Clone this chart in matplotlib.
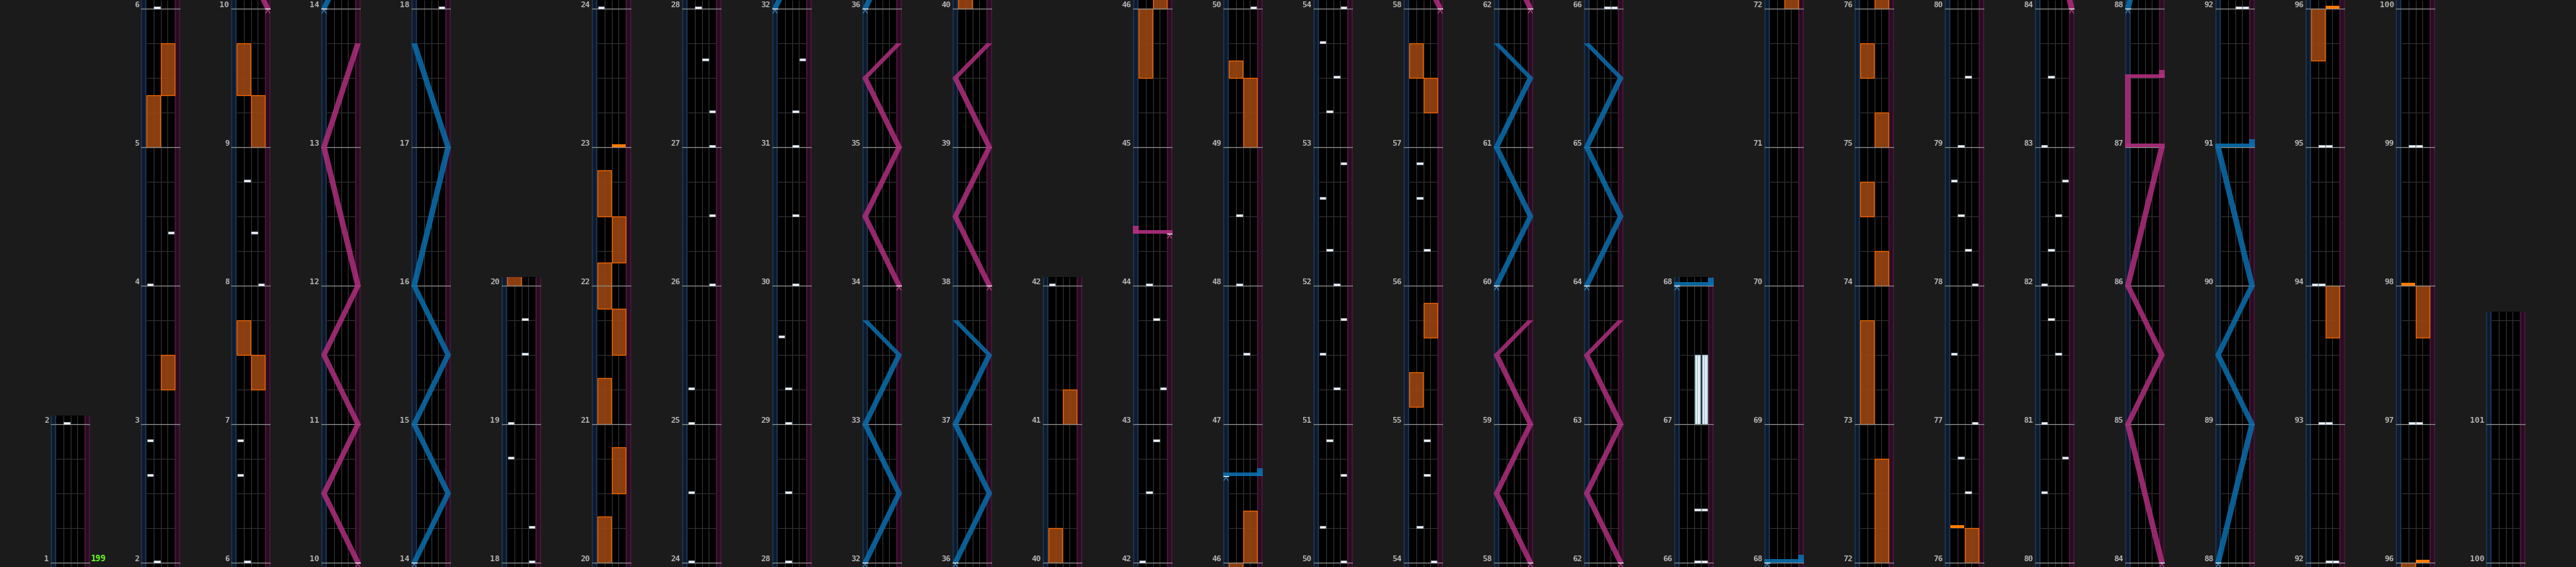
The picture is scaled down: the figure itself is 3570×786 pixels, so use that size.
import numpy as np
import matplotlib.pyplot as plt
from matplotlib.patches import Rectangle, Polygon

# ---- chart data (times in measures, lanes 0-3 = BT A-D, side 0/1 = FX L/R) ----
col_starts = [1, 2, 6, 10, 14, 18, 20, 24, 28, 32, 36, 40, 42, 46, 50, 54,
              58, 62, 66, 68, 72, 76, 80, 84, 88, 92, 96, 100]
chart_end = 101.75
bpm_label = '199'

bt_chips = [
    (2, 1), (2.625, 0), (2.875, 0), (4, 0), (4.375, 3),
    (6, 1), (6.625, 0), (6.875, 0), (8, 3), (8.375, 2), (8.75, 1),
    (18, 3), (18.25, 3), (18.75, 0), (19, 0), (19.5, 2), (19.75, 2),
    (24, 0), (24.5, 0), (25, 0), (25.25, 0), (26, 3), (26.5, 3), (27, 3),
    (27.25, 3), (27.625, 2),
    (28, 1), (28.5, 1), (29, 1), (29.25, 1), (29.625, 0), (30, 2), (30.5, 2),
    (31, 2), (31.25, 2), (31.625, 3),
    (42, 0), (42.5, 1), (42.875, 2), (43.25, 3), (43.75, 2), (44, 1),
    (47.5, 2), (48, 1), (48.5, 1), (50, 3),
    (50.25, 0), (50.625, 3), (50.875, 1), (51.25, 2), (51.5, 0), (51.75, 3),
    (52, 2), (52.25, 1), (52.625, 0), (52.875, 3), (53.25, 1), (53.5, 2),
    (53.75, 0), (54, 3),
    (54.25, 1), (54.625, 2), (54.875, 2), (56.25, 2), (56.625, 1), (56.875, 1),
    (66, 2), (66, 3), (66.375, 2), (66.375, 3),
    (76.5, 2), (76.75, 1), (77, 3), (77.5, 0), (78, 3), (78.25, 2), (78.5, 1),
    (78.75, 0), (79, 1), (79.5, 2),
    (80.5, 0), (80.75, 3), (81, 0), (81.5, 2), (81.75, 1), (82, 0), (82.25, 1),
    (82.5, 2), (82.75, 3), (83, 0), (83.5, 1),
    (92, 2), (92, 3), (93, 1), (93, 2), (94, 0), (94, 1), (95, 1), (95, 2),
    (97, 1), (97, 2), (99, 1), (99, 2),
]
bt_holds = [(67, 67.5, 2), (67, 67.5, 3)]

fx_chips = [(23, 1), (76.25, 0), (96, 1), (98, 0)]
fx_holds = [
    (3.25, 3.5, 1), (5, 5.375, 0), (5.375, 5.75, 1),
    (7.25, 7.5, 1), (7.5, 7.75, 0), (9, 9.375, 1), (9.375, 9.75, 0),
    (20, 20.333, 0), (20.5, 20.833, 1), (21, 21.333, 0), (21.5, 21.833, 1),
    (21.833, 22.167, 0), (22.167, 22.5, 1), (22.5, 22.833, 0),
    (40, 40.25, 0), (41, 41.25, 1), (45.5, 46, 0), (46, 46.375, 1),
    (49, 49.5, 1), (49.5, 49.625, 0),
    (55.125, 55.375, 0), (55.625, 55.875, 1), (57.25, 57.5, 1), (57.5, 57.75, 0),
    (72, 72.75, 1), (73, 73.75, 0), (74, 74.25, 1), (74.5, 74.75, 0),
    (75, 75.25, 1), (75.5, 75.75, 0), (76, 76.25, 1),
    (93.625, 94, 1), (95.625, 96, 0), (97.625, 98, 1),
]

# lasers: (time, position 0=left .. 1=right); equal times = slam
blue_lasers = [
    [(14, 0), (14.5, 1), (15, 0), (15.5, 1), (16, 0), (17, 1), (17.75, 0)],
    [(32, 0), (32.5, 1), (33, 0), (33.5, 1), (33.75, 0)],
    [(36, 0), (36.5, 1), (37, 0), (37.5, 1), (37.75, 0)],
    [(46.625, 0), (46.625, 1)],
    [(60, 0), (60.5, 1), (61, 0), (61.5, 1), (61.75, 0)],
    [(64, 0), (64.5, 1), (65, 0), (65.5, 1), (65.75, 0)],
    [(68, 0), (68, 1)],
    [(88, 0), (89, 1), (89.5, 0), (90, 1), (91, 0), (91, 1)],
]
pink_lasers = [
    [(10, 1), (10.5, 0), (11, 1), (11.5, 0), (12, 1), (13, 0), (13.75, 1)],
    [(34, 1), (34.5, 0), (35, 1), (35.5, 0), (35.75, 1)],
    [(38, 1), (38.5, 0), (39, 1), (39.5, 0), (39.75, 1)],
    [(44.375, 1), (44.375, 0)],
    [(58, 1), (58.5, 0), (59, 1), (59.5, 0), (59.75, 1)],
    [(62, 1), (62.5, 0), (63, 1), (63.5, 0), (63.75, 1)],
    [(84, 1), (85, 0), (85.5, 1), (86, 0), (87, 1), (87, 0), (87.5, 0), (87.5, 1)],
]

# ---- layout ----
W, H = 3570, 786
MEAS = 192.0          # pixels per measure
LANE = 9.75           # pixels per BT lane
SIDE = 8 / LANE       # laser lane width in lane units
HW = SIDE / 2

BG = '#1b1b1b'
BLUE = '#0b6fae'
PINK = '#b02f7f'


def px(n):
    return n / MEAS


def lcenter(p):
    return -HW + p * (4 + SIDE)


def draw_laser(ax, pts, color, caret):
    def flush(run):
        if len(run) > 1:
            left = [(lcenter(p) - HW, t) for t, p in run]
            right = [(lcenter(p) + HW, t) for t, p in run[::-1]]
            ax.add_patch(Polygon(left + right, closed=True, fc=color,
                                 ec='none', alpha=0.85, zorder=5))

    run = [pts[0]]
    slam_end = False
    for (t0, p0), (t1, p1) in zip(pts[:-1], pts[1:]):
        if t1 == t0:
            flush(run)
            xa, xb = sorted([lcenter(p0), lcenter(p1)])
            ax.add_patch(Rectangle((xa - HW, t0), xb - xa + 2 * HW, px(5),
                                   fc=color, ec='none', alpha=0.9, zorder=5))
            run = [(t1, p1)]
            slam_end = True
        else:
            run.append((t1, p1))
            slam_end = False
    flush(run)
    if slam_end:
        t, p = pts[-1]
        ax.add_patch(Rectangle((lcenter(p) - HW, t), 2 * HW, px(11),
                               fc=color, ec='none', alpha=0.9, zorder=5))
    # start marker
    t, p = pts[0]
    c = lcenter(p)
    ax.plot([c - HW, c + HW], [t, t], color='white', lw=0.9, zorder=6,
            solid_capstyle='butt')
    ax.plot([c - 0.28, c, c + 0.28], [t - px(6), t - px(1.5), t - px(6)],
            color=caret, lw=0.8, zorder=6)


fig = plt.figure(figsize=(W / 100, H / 100), dpi=100, facecolor=BG)
col_ends = col_starts[1:] + [chart_end]

for i, (s, e) in enumerate(zip(col_starts, col_ends)):
    x0 = 70 + 125 * i
    bottom, top = s - px(6), e + px(12)
    ax = fig.add_axes([x0 / W, 0, 55 / W, (top - bottom) * MEAS / H])
    ax.set_xlim(-SIDE, 4 + SIDE)
    ax.set_ylim(bottom, top)
    ax.axis('off')

    # lane backgrounds
    ax.add_patch(Rectangle((0, bottom), 4, top - bottom, fc='black', ec='none', zorder=0))
    ax.add_patch(Rectangle((-SIDE, bottom), SIDE, top - bottom, fc='#0e1a2d', ec='none', zorder=0))
    ax.add_patch(Rectangle((4, bottom), SIDE, top - bottom, fc='#290c21', ec='none', zorder=0))
    for xe in (-SIDE + 0.06, -0.06):
        ax.axvline(xe, color='#1d3753', lw=1.1, zorder=1)
    for xe in (4.06, 4 + SIDE - 0.06):
        ax.axvline(xe, color='#4a1a3b', lw=1.1, zorder=1)
    ax.vlines([1, 2, 3], bottom, top, color='#333333', lw=0.8, zorder=1)
    beats = np.arange(np.floor(bottom), top, 0.25)
    ax.hlines(beats, 0, 4, color='#2f2f2f', lw=0.8, zorder=1)

    # holds
    for t0, t1, side in fx_holds:
        if t1 >= bottom and t0 <= top:
            ax.add_patch(Rectangle((2 * side + 0.04, t0), 1.92, t1 - t0,
                                   fc='#9a4511', ec='#ff6a00', lw=0.9,
                                   alpha=0.9, zorder=2))
    for t0, t1, lane in bt_holds:
        if t1 >= bottom and t0 <= top:
            ax.add_patch(Rectangle((lane + 0.14, t0), 0.72, t1 - t0,
                                   fc='#e4f0f6', ec='#9fc0d2', lw=1.0, zorder=2))
            ax.plot([lane + 0.5] * 2, [t0, t1], color='#9fb4c0', lw=0.6, zorder=2)

    # measure lines and labels
    for m in range(int(np.ceil(s)), int(np.floor(e)) + 1):
        ax.plot([-SIDE, 4 + SIDE], [m, m], color='#8a8a8a', lw=0.9, zorder=3,
                solid_capstyle='butt')
        ax.text(-SIDE - 0.22, m + px(1.5), str(m), ha='right', va='baseline',
                color='#b4b4b4', fontsize=8, fontweight='bold',
                family='DejaVu Sans Mono', clip_on=False)

    # chips
    for t, lane in bt_chips:
        if bottom <= t <= top:
            ax.add_patch(Rectangle((lane + 0.07, t), 0.86, px(3.2),
                                   fc='#f2f6fa', ec='#a9b6c4', lw=0.5, zorder=4))
    for t, side in fx_chips:
        if bottom <= t <= top:
            ax.add_patch(Rectangle((2 * side + 0.04, t), 1.92, px(3.5),
                                   fc='#ff7c00', ec='none', zorder=4))

    # lasers
    for pts in blue_lasers:
        if pts[-1][0] >= bottom - 0.1 and pts[0][0] <= top:
            draw_laser(ax, pts, BLUE, '#3f8fc4')
    for pts in pink_lasers:
        if pts[-1][0] >= bottom - 0.1 and pts[0][0] <= top:
            draw_laser(ax, pts, PINK, '#c24a94')

    if i == 0:
        ax.text(4 + SIDE + 0.12, s + px(1.5), bpm_label, ha='left', va='baseline',
                color='#6aff1e', fontsize=8.5, fontweight='bold',
                family='DejaVu Sans Mono', clip_on=False)

fig.savefig('out.png', dpi=100, facecolor=BG)
